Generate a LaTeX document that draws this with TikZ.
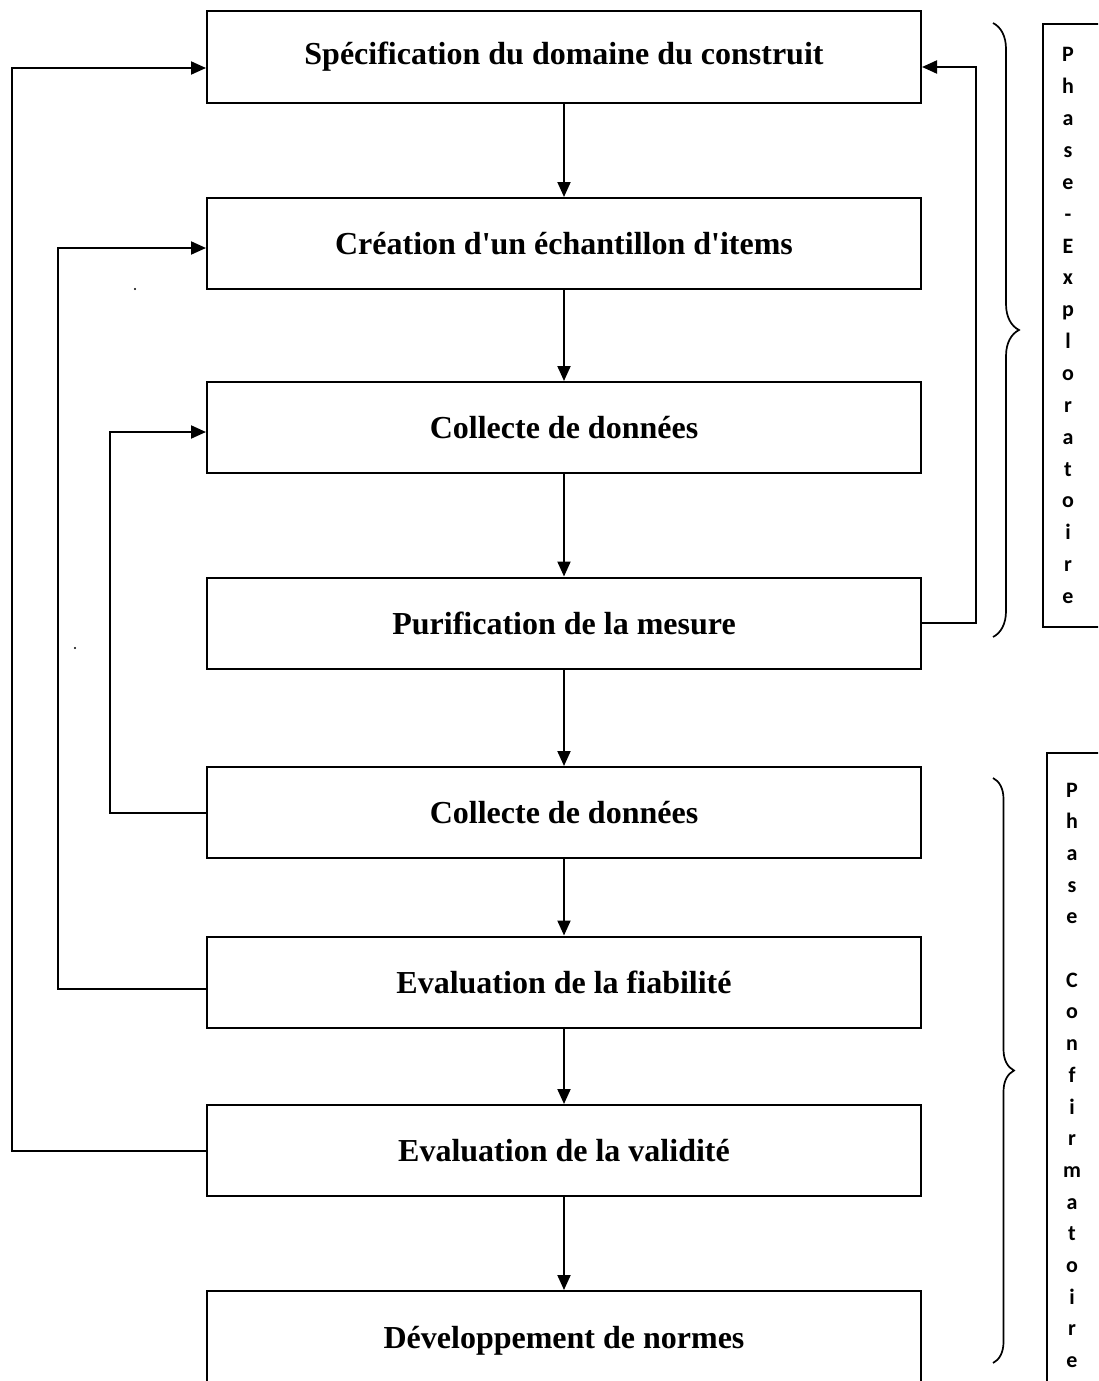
\documentclass[tikz,border=0pt]{standalone}
\usepackage{fontspec}
\setmainfont{Liberation Serif}
\newfontfamily\phasefont{Carlito}
\usetikzlibrary{arrows.meta,decorations.pathreplacing}
\begin{document}
\begin{tikzpicture}[x=1pt,y=-1pt,
  stepbox/.style={draw, line width=2pt, minimum width=714pt, minimum height=91pt,
    inner sep=0pt, font=\bfseries\fontsize{32}{36}\selectfont},
  flow/.style={line width=2pt, -{Triangle[length=15pt,width=13pt]}},
  phasebrace/.style={decorate, line width=1.7pt, decoration={brace,amplitude=#1}},
  phaseframe/.style={line width=1.8pt},
  phl/.style={inner sep=0pt, text height=14pt, text depth=0pt,
    font=\phasefont\bfseries\fontsize{22}{24}\selectfont}]

\useasboundingbox (0,0) rectangle (1098,1381);
\fill[white] (0,0) rectangle (1098,1381);
\clip (0,0) rectangle (1098,1381);

% process steps
\node[stepbox] (b1) at (564,57)   {Spécification du domaine du construit};
\node[stepbox] (b2) at (564,243.5){Création d\textquotesingle un échantillon d\textquotesingle items};
\node[stepbox] (b3) at (564,427.5){Collecte de données};
\node[stepbox] (b4) at (564,623)  {Purification de la mesure};
\node[stepbox] (b5) at (564,812.5){Collecte de données};
\node[stepbox] (b6) at (564,982)  {Evaluation de la fiabilité};
\node[stepbox] (b7) at (564,1150.5){Evaluation de la validité};
\node[stepbox, minimum height=100pt] (b8) at (564,1341){Développement de normes};

% main sequence
\foreach \a/\b in {b1/b2,b2/b3,b3/b4,b4/b5,b5/b6,b6/b7,b7/b8}
  \draw[flow] (\a.south) -- (\b.north);

% feedback loops
\draw[flow] (b4.east) -- ++(54,0) |- ([yshift=-10pt]b1.east);
\draw[flow] (b7.west) -- ++(-194,0) |- ([yshift=-11pt]b1.west);
\draw[flow] ([yshift=-7pt]b6.west) -- ++(-148,0) |- ([yshift=-4.5pt]b2.west);
\draw[flow] (b5.west) -- ++(-96,0) |- ([yshift=-4.5pt]b3.west);

% stray marks
\fill (135,289) circle (1.2pt);
\fill (75,648) circle (1.2pt);

% phase braces
\draw[phasebrace=26pt] (993,23) -- (993,637);
\draw[phasebrace=21pt] (993,778) -- (993,1363);

% phase labels
\draw[phaseframe] (1043,24) rectangle (1115,627);
\draw[phaseframe] (1047,753) rectangle (1115,1400);
\foreach \c [count=\i] in {P,h,a,s,e,-,E,x,p,l,o,r,a,t,o,i,r,e}
  \node[phl] (pa\i) at (1068,{55+31.85*(\i-1)}) {\c};
\foreach \c [count=\i] in {P,h,a,s,e,{},C,o,n,f,i,r,m,a,t,o,i,r,e}
  \node[phl] (pb\i) at (1072,{790+31.7*(\i-1)}) {\c};
\end{tikzpicture}
\end{document}
